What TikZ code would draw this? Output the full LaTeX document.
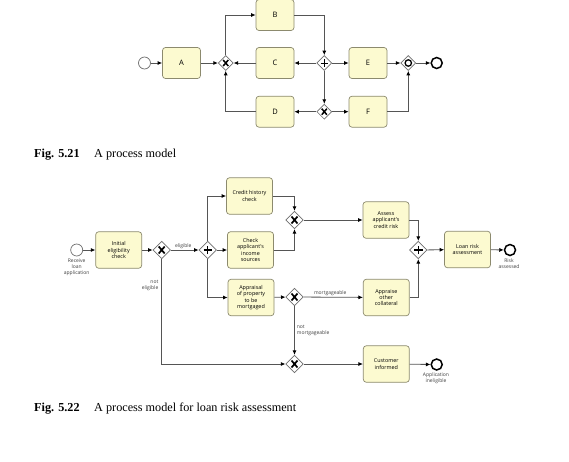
\documentclass[tikz,border=0pt]{standalone}
\usepackage{fontspec}
\setmainfont{Liberation Serif}
\newfontfamily\dsf{Open Sans}
\usetikzlibrary{shapes.geometric,arrows.meta,positioning}
\definecolor{boxfill}{RGB}{252,250,208}
\definecolor{boxdraw}{RGB}{140,138,110}
\definecolor{linegray}{RGB}{85,85,85}
\definecolor{gwdraw}{RGB}{110,110,110}
\tikzset{
  task/.style={rectangle, rounded corners=3pt, draw=boxdraw, fill=boxfill, line width=0.7pt,
    minimum width=38pt, minimum height=31pt, align=center, inner sep=1pt,
    font=\dsf\fontsize{7.5}{8}\selectfont},
  btask/.style={task, minimum width=46pt, minimum height=36.5pt,
    font=\dsf\fontsize{5.4}{6.2}\selectfont},
  gw/.style={diamond, draw=gwdraw, fill=white, line width=0.7pt, minimum size=15pt, inner sep=0pt},
  bgw/.style={gw, minimum size=17.5pt},
  xmark/.style={path picture={
      \draw[line width=#1, black]
        ([shift={(-0.17*\pgfkeysvalueof{/pgf/minimum width},-0.2*\pgfkeysvalueof{/pgf/minimum width})}]path picture bounding box.center)
        -- ([shift={(0.17*\pgfkeysvalueof{/pgf/minimum width},0.2*\pgfkeysvalueof{/pgf/minimum width})}]path picture bounding box.center)
        ([shift={(-0.17*\pgfkeysvalueof{/pgf/minimum width},0.2*\pgfkeysvalueof{/pgf/minimum width})}]path picture bounding box.center)
        -- ([shift={(0.17*\pgfkeysvalueof{/pgf/minimum width},-0.2*\pgfkeysvalueof{/pgf/minimum width})}]path picture bounding box.center);}},
  pmark/.style={path picture={
      \draw[line width=#1, black]
        ([shift={(-0.24*\pgfkeysvalueof{/pgf/minimum width},0pt)}]path picture bounding box.center)
        -- ([shift={(0.24*\pgfkeysvalueof{/pgf/minimum width},0pt)}]path picture bounding box.center)
        ([shift={(0pt,-0.24*\pgfkeysvalueof{/pgf/minimum width})}]path picture bounding box.center)
        -- ([shift={(0pt,0.24*\pgfkeysvalueof{/pgf/minimum width})}]path picture bounding box.center);}},
  omark/.style={path picture={
      \draw[line width=1.3pt, black] (path picture bounding box.center) circle (3.2pt);}},
  xorgw/.style={gw, xmark=1.5pt},
  andgw/.style={gw, pmark=1pt},
  orgw/.style={gw, omark},
  bxorgw/.style={bgw, xmark=1.7pt},
  bandgw/.style={bgw, pmark=1.1pt},
  startev/.style={circle, draw=gwdraw, fill=white, line width=0.7pt, minimum size=12pt, inner sep=0pt},
  endev/.style={circle, draw=black, fill=white, line width=1.5pt, minimum size=11pt, inner sep=0pt},
  evlabel/.style={font=\dsf\fontsize{5}{5.6}\selectfont, align=center, text=black!75, inner sep=0pt},
  elabel/.style={font=\dsf\fontsize{5}{5.6}\selectfont, text=black!75, inner sep=1pt},
  flow/.style={draw=linegray, line width=0.8pt, -{Latex[length=4.5pt,width=4pt,color=black]}},
  caption/.style={font=\fontsize{12.2}{14}\selectfont, anchor=base west, inner sep=0pt}
}
\begin{document}
\begin{tikzpicture}[x=1pt,y=-1pt]
\useasboundingbox (0,0) rectangle (569,461);
\fill[white] (0,0) rectangle (569,461);

% ---------- Fig 5.21 ----------
\node[startev] (s1) at (144.5,63) {};
\node[task] (A) at (181.5,63) {A};
\node[xorgw] (x1) at (225.7,63) {};
\node[task] (B) at (275,15) {B};
\node[task] (C) at (275,63) {C};
\node[task] (D) at (275,111.7) {D};
\node[andgw] (p1) at (324.3,63) {};
\node[xorgw] (x2) at (324.3,111.7) {};
\node[task] (E) at (368,63) {E};
\node[task] (F) at (368,111.7) {F};
\node[orgw] (o1) at (408.3,63) {};
\node[endev] (e1) at (436.7,63) {};

\draw[flow] (s1) -- (A);
\draw[flow] (A) -- (x1);
\draw[flow] (C) -- (x1);
\draw[flow] (x1.north) |- (B.west);
\draw[flow] (B.east) -| (p1.north);
\draw[flow] (p1) -- (C);
\draw[flow] (p1) -- (E);
\draw[flow] (p1) -- (x2);
\draw[flow] (x2) -- (D);
\draw[flow] (x2) -- (F);
\draw[flow] (D.west) -| (x1.south);
\draw[flow] (E) -- (o1);
\draw[flow] (F.east) -| (o1.south);
\draw[flow] (o1) -- (e1);

\node[caption] (cap1) at (34,157) {\textbf{Fig. 5.21}\hskip1.2em A process model};

% ---------- Fig 5.22 ----------
\node[startev] (s2) at (76.7,250) {};
\node[evlabel, anchor=north] (s2l) at (76.7,259) {Receive\\loan\\application};
\node[btask] (T1) at (118.7,250) {Initial\\eligibility\\check};
\node[bxorgw] (g1) at (161.7,250) {};
\node[bandgw] (g2) at (207.7,250) {};
\node[btask] (T2) at (249.5,196) {Credit history\\check};
\node[btask] (T3) at (250.5,250) {Check\\applicant's\\income\\sources};
\node[btask] (T4) at (251,297.5) {Appraisal\\of property\\to be\\mortgaged};
\node[bxorgw] (g3) at (294.5,220) {};
\node[bxorgw] (g4) at (294.5,297) {};
\node[bxorgw] (g6) at (294.5,364) {};
\node[btask] (T5) at (386,220) {Assess\\applicant's\\credit risk};
\node[btask] (T6) at (386.3,297.5) {Appraise\\other\\collateral};
\node[btask] (T7) at (386.3,364) {Customer\\informed};
\node[bandgw] (g5) at (418.3,250) {};
\node[btask] (T8) at (467.5,249.5) {Loan risk\\assessment};
\node[endev] (e2) at (510,250) {};
\node[evlabel, anchor=north] (e2l) at (509,258.5) {Risk\\assessed};
\node[endev] (e3) at (436.7,364.5) {};
\node[evlabel, anchor=north] (e3l) at (436,372.5) {Application\\ineligible};

\draw[flow] (s2) -- (T1);
\draw[flow] (T1) -- (g1);
\draw[flow] (g1) -- node[elabel, above, pos=0.45] {eligible} (g2);
\draw[flow] (g2.north) |- (T2.west);
\draw[flow] (g2) -- (T3);
\draw[flow] (g2.south) |- (T4.west);
\draw[flow] (T2.east) -| (g3.north);
\draw[flow] (T3.east) -| (g3.south);
\draw[flow] (g3) -- (T5);
\draw[flow] (T4) -- (g4);
\draw[flow] (g4) -- node[elabel, above, pos=0.45] {mortgageable} (T6);
\draw[flow] (g4) -- node[elabel, right, align=left, pos=0.5, xshift=1pt] {not\\mortgageable} (g6);
\draw[flow] (g1.south) |- (g6.west);
\node[elabel, align=right, anchor=east] (ne) at (159.5,285.5) {not\\eligible};
\draw[flow] (g6) -- (T7);
\draw[flow] (T7) -- (e3);
\draw[flow] (T5.east) -| (g5.north);
\draw[flow] (T6.east) -| (g5.south);
\draw[flow] (g5) -- (T8);
\draw[flow] (T8) -- (e2);

\node[caption] (cap2) at (34,411.7) {\textbf{Fig. 5.22}\hskip1.2em A process model for loan risk assessment};
\end{tikzpicture}
\end{document}
